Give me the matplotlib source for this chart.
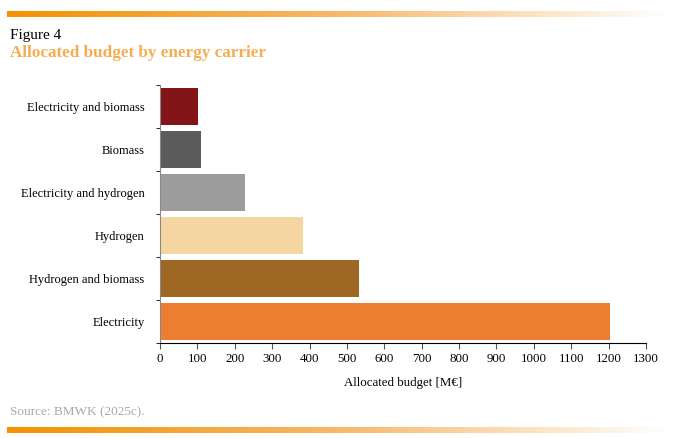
import matplotlib.pyplot as plt
import numpy as np
from matplotlib.colors import LinearSegmentedColormap

categories = ["Electricity", "Hydrogen and biomass", "Hydrogen",
              "Electricity and hydrogen", "Biomass", "Electricity and biomass"]
budget = [1203, 532, 383, 227, 110, 102]
colors = ["#ED7D31", "#9E6724", "#F5D5A2", "#9C9C9C", "#5B5B5B", "#831518"]
xticks = list(range(0, 1400, 100))

plt.rcParams['font.family'] = ['Liberation Serif', 'DejaVu Serif']

fig = plt.figure(figsize=(6.97, 4.38), dpi=100)

# gradient strips top and bottom
grad = LinearSegmentedColormap.from_list("g", ["#F39200", "#F7B867", "#FFFFFF"])
strip = np.linspace(0, 1, 256).reshape(1, -1)
for y0 in [1 - 17 / 438, 1 - 433 / 438]:
    sax = fig.add_axes([7 / 697, y0, 660 / 697, 6 / 438])
    sax.imshow(strip, aspect="auto", cmap=grad)
    sax.axis("off")

ax = fig.add_axes([160 / 697, 1 - 343 / 438, 486 / 697, 258 / 438])
y = np.arange(len(categories))
ax.barh(y, budget, height=0.84, color=colors)
ax.set_xlim(0, 1300)
ax.set_ylim(-0.5, len(categories) - 0.5)
ax.set_xticks(xticks)
ax.set_xticklabels([str(t) for t in xticks], fontsize=9.3)
ax.set_yticks(y)
ax.set_yticklabels(categories, fontsize=9)
ax.set_yticks(np.arange(-0.5, len(categories)), minor=True)
ax.tick_params(axis="y", which="major", length=0, pad=11)
ax.tick_params(axis="y", which="minor", length=3, color="black")
ax.tick_params(axis="x", length=4, color="#555555", pad=3)
for s in ["top", "right"]:
    ax.spines[s].set_visible(False)
ax.spines["left"].set_color("#888888")
ax.spines["bottom"].set_color("black")
ax.set_xlabel("Allocated budget [M\u20ac]", fontsize=9.3, labelpad=9)

fig.text(10 / 697, 1 - 35 / 438, "Figure 4", fontsize=11, va="center", color="black")
fig.text(10 / 697, 1 - 53 / 438, "Allocated budget by energy carrier", fontsize=12.3,
         fontweight="bold", va="center", color="#F6AD52")
fig.text(10 / 697, 1 - 412 / 438, "Source: BMWK (2025c).", fontsize=9.5,
         va="center", color="#A8A8A8")

fig.savefig("out.png", dpi=100)
